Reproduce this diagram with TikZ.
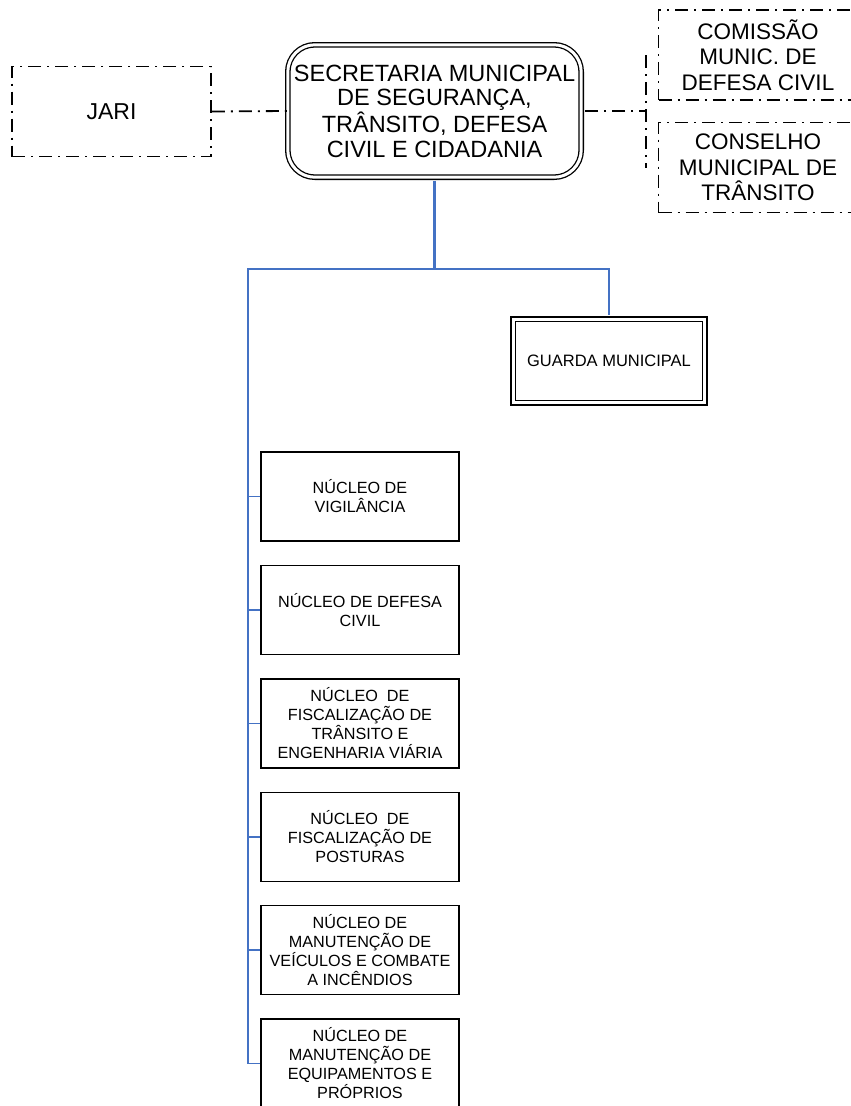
\documentclass[tikz,border=0pt]{standalone}
\usepackage{fontspec}
\setmainfont{Liberation Sans}
\definecolor{linkblue}{RGB}{68,114,196}
\begin{document}
\begin{tikzpicture}[x=1pt,y=-1pt,
	dashdot/.style={line width=1.8pt,dash pattern=on 13pt off 6pt on 2pt off 6pt},
	sidebox/.style={draw,dashdot,rectangle,minimum width=199pt,minimum height=90pt,align=center,inner sep=0pt,font=\fontsize{22.5}{25.5}\selectfont},
	topbox/.style={draw,rectangle,double,double distance=3pt,line width=1.3pt,rounded corners=27pt,minimum width=293.4pt,minimum height=132.4pt,align=center,inner sep=0pt,font=\fontsize{23.5}{24.7}\selectfont},
	guardabox/.style={draw,rectangle,double,double distance=3pt,line width=1.6pt,minimum width=191.8pt,minimum height=83.8pt,align=center,inner sep=0pt,font=\fontsize{16.5}{19}\selectfont},
	nucleo/.style={draw,rectangle,line width=1.7pt,minimum width=198pt,minimum height=89pt,align=center,inner sep=0pt,font=\fontsize{16.2}{19}\selectfont},
	tree/.style={draw=linkblue,line width=2.4pt},
	branch/.style={draw=linkblue,line width=1.5pt},
	stub/.style={draw=linkblue,line width=1.2pt}]
	\useasboundingbox (0,0) rectangle (851,1106);
	\node[topbox](sec) at (434.5,111) {SECRETARIA MUNICIPAL\\DE SEGURANÇA,\\TRÂNSITO, DEFESA\\CIVIL E CIDADANIA};
	\node[sidebox,font=\fontsize{23}{25}\selectfont](jari) at (111.5,111.5) {JARI};
	\node[sidebox](comissao) at (758,55) {COMISSÃO\\MUNIC. DE\\DEFESA CIVIL};
	\node[sidebox](conselho) at (758,167.5) {CONSELHO\\MUNICIPAL DE\\TRÂNSITO};
	\node[guardabox](guarda) at (609,361) {GUARDA MUNICIPAL};
	\node[nucleo](n1) at (360,496.5) {NÚCLEO DE\\VIGILÂNCIA};
	\node[nucleo](n2) at (360,610) {NÚCLEO DE DEFESA\\CIVIL};
	\node[nucleo](n3) at (360,723.5) {NÚCLEO\ \ DE\\FISCALIZAÇÃO DE\\TRÂNSITO E\\ENGENHARIA VIÁRIA};
	\node[nucleo](n4) at (360,837) {NÚCLEO\ \ DE\\FISCALIZAÇÃO DE\\POSTURAS};
	\node[nucleo](n5) at (360,950) {NÚCLEO DE\\MANUTENÇÃO DE\\VEÍCULOS E COMBATE\\A INCÊNDIOS};
	\node[nucleo](n6) at (360,1063.5) {NÚCLEO DE\\MANUTENÇÃO DE\\EQUIPAMENTOS E\\PRÓPRIOS};
	\coordinate (split) at (434.5,269);
	\coordinate (corner) at (248,269);
	\coordinate (brmid) at (646,111);
	\coordinate (brtop) at (646,55);
	\coordinate (brbot) at (646,168);
	\draw[dashdot] (jari.east) -- (sec.west);
	\draw[dashdot,dash phase=6pt] (brmid) -- (sec.east);
	\draw[dashdot] (brtop) -- (brbot);
	\draw[tree,shorten <=2.9pt] (sec.south) -- (split) -- (corner) -- (corner |- n6.west);
	\draw[branch,shorten >=3.2pt] (split) -| (guarda.north);
	\foreach \n in {n1,n2,n3,n4,n5,n6}
		\draw[stub] (corner |- \n.west) -- (\n.west);
\end{tikzpicture}
\end{document}
